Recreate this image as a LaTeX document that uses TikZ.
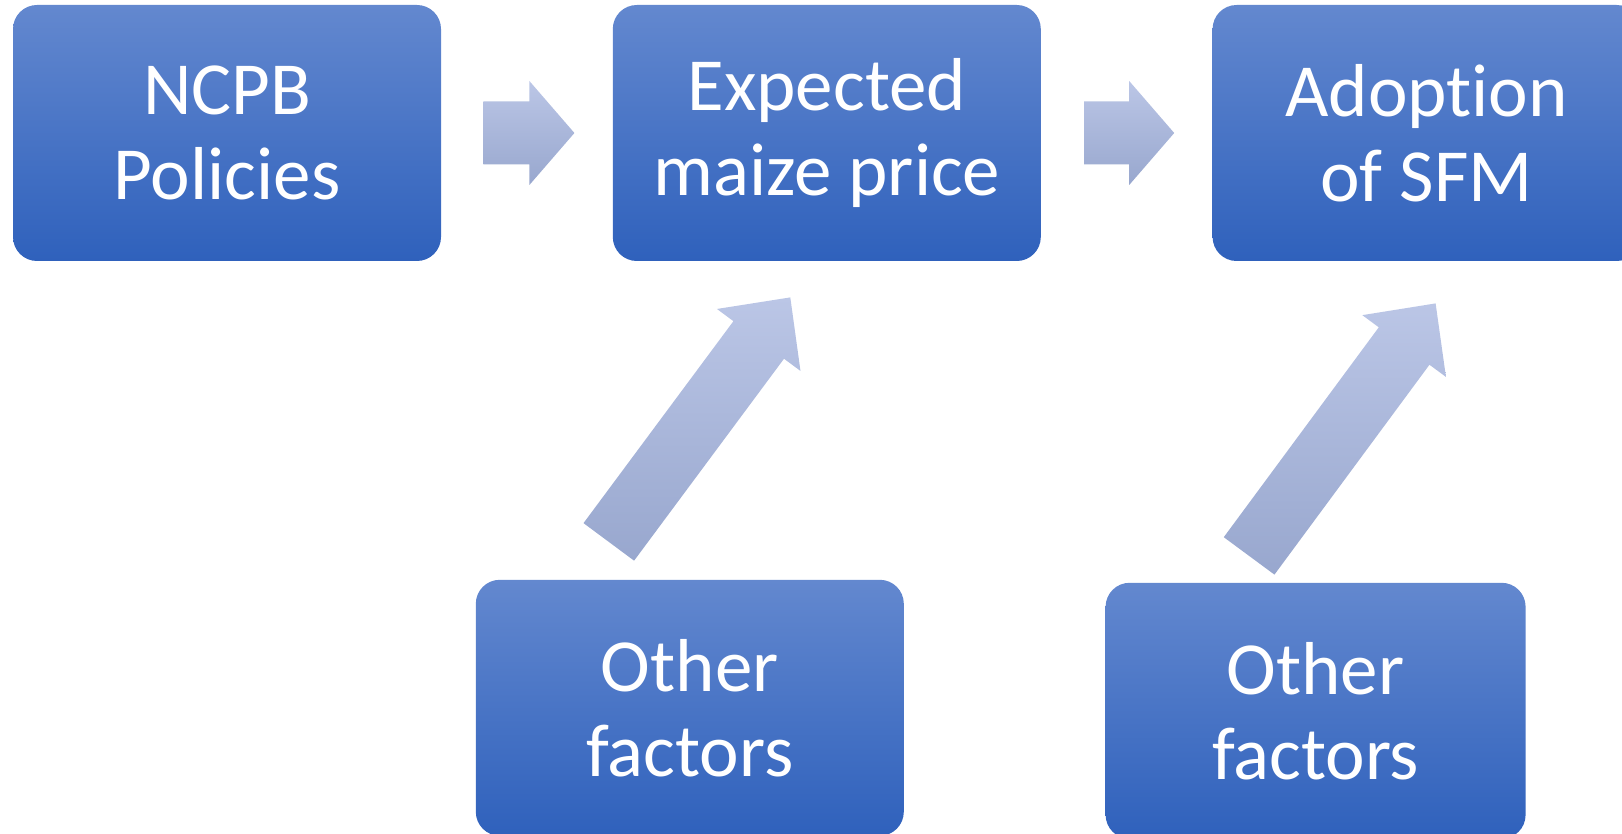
\documentclass[tikz,border=0pt]{standalone}
\usepackage{fontspec}
\setmainfont{Carlito}[Ligatures=NoCommon]
\usepackage{tikz}
\usetikzlibrary{positioning,calc}
\definecolor{boxtop}{HTML}{6388CF}
\definecolor{boxbottom}{HTML}{2F61BC}
\definecolor{arrowtop}{HTML}{BBC6E6}
\definecolor{arrowbottom}{HTML}{98A7CE}
\newcommand{\blockarrow}[3]{%
  \coordinate (hb) at ($(#2)!#3!(#1)$);
  \shade[flowarrow] ($(#1)!15.75pt!90:(#2)$) -- ($(hb)!15.75pt!-90:(#1)$)
    -- ($(hb)!26pt!-90:(#1)$) -- (#2) -- ($(hb)!26pt!90:(#1)$)
    -- ($(hb)!15.75pt!90:(#1)$) -- ($(#1)!15.75pt!-90:(#2)$) -- cycle;}

\begin{document}
\begin{tikzpicture}[
  x=0.5pt, y=-0.5pt,
  every node/.style={font=\fontsize{37.5}{42.5}\selectfont},
  factor/.style={rectangle, rounded corners=12pt, top color=boxtop, bottom color=boxbottom,
                 text=white, minimum width=214pt, minimum height=128pt, align=center, inner sep=0pt},
  flowarrow/.style={top color=arrowtop, bottom color=arrowbottom, draw=none}
]
\useasboundingbox (0,0) rectangle (1622,834);

\node[factor] (ncpb) at (227,133) {NCPB\\Policies};
\node[factor, right=85.5pt of ncpb] (price) {Expected\\maize price};
\node[factor, right=85.5pt of price] (sfm) {Adoption\\of SFM};
\node[factor, below=159pt of price, xshift=-68.5pt] (othprice) {Other\\factors};
\node[factor, below=160.5pt of sfm, xshift=-55.5pt, minimum width=210pt] (othsfm) {Other\\factors};

\coordinate (a1s) at ($(ncpb.east)+(42,0)$);
\coordinate (a1e) at ($(price.west)+(-38,0)$);
\coordinate (a2s) at ($(price.east)+(43,0)$);
\coordinate (a2e) at ($(sfm.west)+(-38,0)$);
\coordinate (a3s) at ($(othprice.north)+(-81,-37.5)$);
\coordinate (a3e) at ($(price.south)+(-36.5,36)$);
\coordinate (a4s) at ($(othsfm.north)+(-66.5,-26.5)$);
\coordinate (a4e) at ($(sfm.south)+(9,42)$);

\blockarrow{a1s}{a1e}{22.5pt}
\blockarrow{a2s}{a2e}{22.5pt}
\blockarrow{a3s}{a3e}{26.5pt}
\blockarrow{a4s}{a4e}{26.5pt}
\end{tikzpicture}
\end{document}
